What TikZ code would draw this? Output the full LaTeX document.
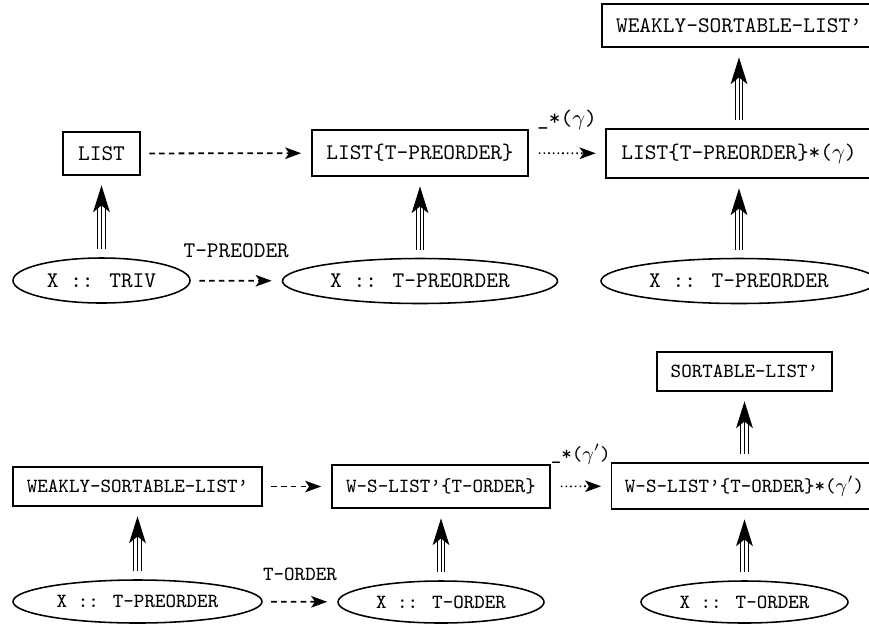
\documentclass[tikz,border=0pt]{standalone}
\usetikzlibrary{arrows.meta,shapes.geometric}
\begin{document}
\begin{tikzpicture}[x=0.4484pt,y=-0.4484pt,
  every node/.style={inner sep=0pt, font=\ttfamily\fontsize{10}{12}\selectfont},
  small/.style={font=\ttfamily\fontsize{9}{11}\selectfont},
  sz/.style 2 args={minimum width=#1*0.4484pt, minimum height=#2*0.4484pt},
  box/.style={draw, line width=0.7pt, rectangle},
  ell/.style={draw, line width=0.7pt, ellipse},
  htip/.style={-{Stealth[length=7.2pt,width=5.2pt,inset=1.8pt]}},
  dasharrow/.style={line width=0.8pt, dash pattern=on 2.5pt off 1.9pt, htip, shorten <=3.8pt, shorten >=4.5pt},
  dotarrow/.style={line width=0.7pt, dash pattern=on 0.7pt off 1.4pt, htip, shorten <=4.5pt, shorten >=4.3pt},
  tripleline/.style={line width=0.45pt, double, double distance=3.0pt, shorten <=3.6pt, shorten >=12.5pt},
  tripletip/.style={line width=0.45pt, -{Stealth[length=12pt,width=7.5pt,inset=3pt]}, shorten <=3.6pt, shorten >=4.3pt},
  lab/.style={midway, anchor=center}
]
\useasboundingbox (0,0) rectangle (869,626);

% ---------- top diagram ----------
\node[box, sz={274}{43}] (w1) at (739,25.5) {WEAKLY-SORTABLE-LIST’};
\node[box, sz={77}{43}] (list) at (101.5,153.5) {LIST};
\node[box, sz={216}{46}] (lt) at (420,153) {LIST\{T-PREORDER\}};
\node[box, sz={266}{49}] (ltg) at (739,153.5) {LIST\{T-PREORDER\}*($\gamma$)};
\node[ell, sz={177}{45}] (e1) at (101.5,280.5) {X :: TRIV};
\node[ell, sz={275}{45}] (e2) at (420,281) {X :: T-PREORDER};
\node[ell, sz={276}{45}] (e3) at (739,281) {X :: T-PREORDER};

\draw[dasharrow] (list) -- (lt);
\draw[dotarrow] (lt) -- node[lab, yshift=15pt] (g1) {\_*($\gamma$)} (ltg);
\draw[dasharrow] (e1) -- node[lab, yshift=13.5pt] (tp) {T-PREODER} (e2);

\draw[tripleline] (e1) -- (list);
\draw[tripletip] (e1) -- (list);
\draw[tripleline] (e2) -- (lt);
\draw[tripletip] (e2) -- (lt);
\draw[tripleline] (e3) -- (ltg);
\draw[tripletip] (e3) -- (ltg);
\draw[tripleline] (ltg) -- (w1);
\draw[tripletip] (ltg) -- (w1);

% ---------- bottom diagram ----------
\node[box, small, sz={175}{39}] (s) at (744.5,371.5) {SORTABLE-LIST’};
\node[box, small, sz={249}{39}] (wb) at (137.5,486.5) {WEAKLY-SORTABLE-LIST’};
\node[box, small, sz={218}{43}] (ws) at (441,486.5) {W-S-LIST’\{T-ORDER\}};
\node[box, small, sz={266}{46}] (wsg) at (744.5,486) {W-S-LIST’\{T-ORDER\}*($\gamma'$)};
\node[ell, small, sz={249}{43}] (e4) at (137.5,601.5) {X :: T-PREORDER};
\node[ell, small, sz={206}{42}] (e5) at (441,602) {X :: T-ORDER};
\node[ell, small, sz={207}{42}] (e6) at (744.5,602) {X :: T-ORDER};

\draw[dasharrow] (wb) -- (ws);
\draw[dotarrow] (ws) -- node[lab, small, yshift=14.3pt] (g2) {\_*($\gamma'$)} (wsg);
\draw[dasharrow] (e4) -- node[lab, small, yshift=12.5pt] (to) {T-ORDER} (e5);

\draw[tripleline] (e4) -- (wb);
\draw[tripletip] (e4) -- (wb);
\draw[tripleline] (e5) -- (ws);
\draw[tripletip] (e5) -- (ws);
\draw[tripleline] (e6) -- (wsg);
\draw[tripletip] (e6) -- (wsg);
\draw[tripleline] (wsg) -- (s);
\draw[tripletip] (wsg) -- (s);
\end{tikzpicture}
\end{document}
